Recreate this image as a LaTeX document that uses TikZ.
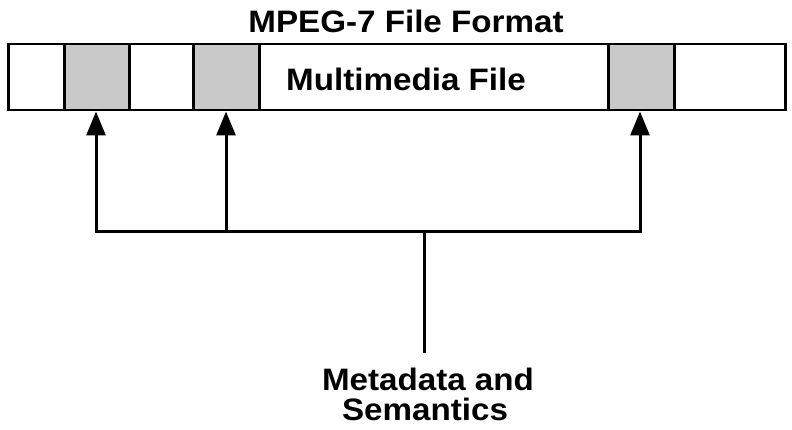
\documentclass[tikz,border=0pt]{standalone}
\usepackage{fontspec}
\setmainfont{Liberation Sans}
\usetikzlibrary{arrows.meta}
\begin{document}
\begin{tikzpicture}[x=1pt,y=-1pt,
  txt/.style={font=\fontsize{31}{30}\selectfont\bfseries, inner sep=0pt, align=center, xscale=1.07},
  seg/.style={draw=black, line width=2.5pt, fill=white, inner sep=0pt, anchor=north west},
  meta/.style={draw=black, line width=2.5pt, fill=black!21, inner sep=0pt, anchor=north west},
  link/.style={line width=3pt},
  arr/.style={line width=3pt, -{Triangle[length=24pt,width=19pt]}}]
\useasboundingbox (0,0) rectangle (792,430);
% outer file strip
\node[seg, minimum width=777pt, minimum height=66pt] (strip) at (7,43) {};
\node[meta, minimum width=65pt, minimum height=66pt] (m1) at (63,43) {};
\node[meta, minimum width=66pt, minimum height=66pt] (m2) at (192,43) {};
\node[meta, minimum width=66pt, minimum height=66pt] (m3) at (607,43) {};
% texts
\node[txt, anchor=base] (title) at (406,33) {MPEG-7 File Format};
\node[txt, anchor=base] (mm) at (406,91) {Multimedia File};
\node[txt, anchor=base] (md1) at (428,390) {Metadata and};
\node[txt, anchor=base] (md2) at (425,420) {Semantics};
% connectors
\coordinate (j1) at (96,232);
\coordinate (j2) at (226,232);
\coordinate (j3) at (640,232);
\coordinate (jc) at (424,232);
\coordinate (src) at (424,353);
\draw[link, line cap=rect] (j1) -- (j3);
\draw[link] (src) -- (jc);
\draw[arr] (j1) -- (j1 |- m1.south);
\draw[arr] (j2) -- (j2 |- m2.south);
\draw[arr] (j3) -- (j3 |- m3.south);
\end{tikzpicture}
\end{document}
